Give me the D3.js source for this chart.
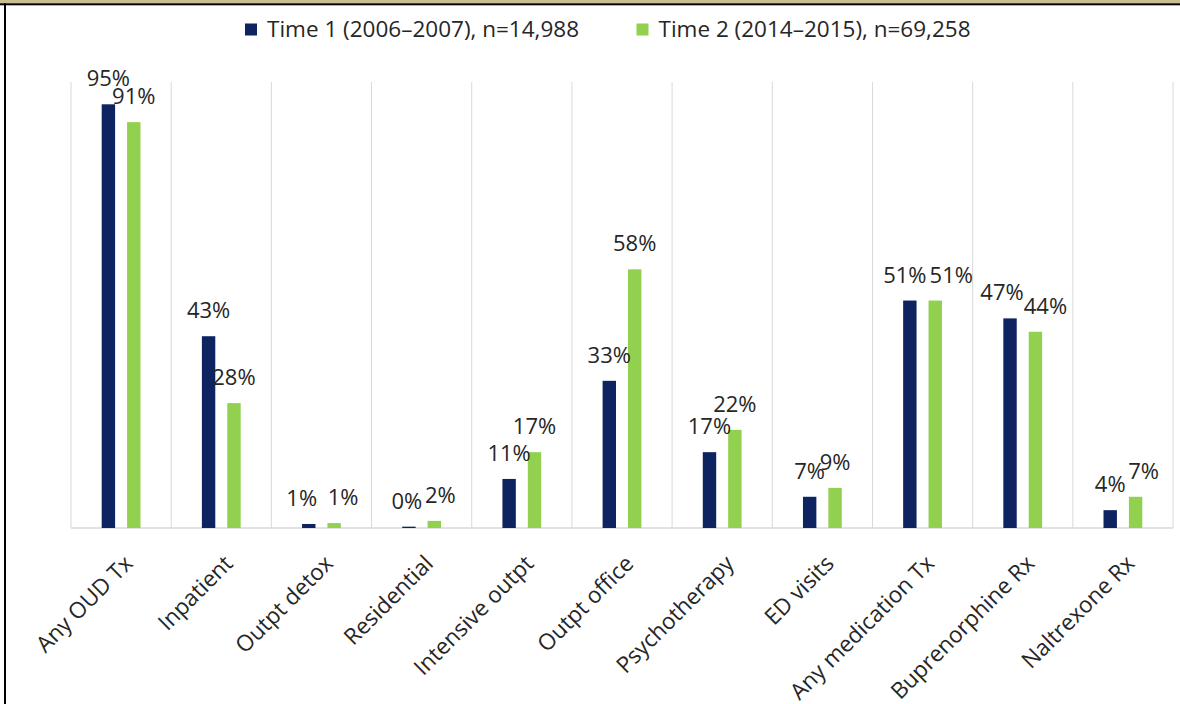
<!DOCTYPE html>
<html>
<head>
<meta charset="utf-8">
<script src="https://cdn.jsdelivr.net/npm/d3@7"></script>
<style>
  html, body { margin: 0; padding: 0; background: #fff; }
  svg { display: block; }
  text { font-family: "Open Sans", "Noto Sans", sans-serif; fill: #262626; }
</style>
</head>
<body>
<svg id="chart" width="1180" height="704"></svg>
<script>
const categories = ["Any OUD Tx", "Inpatient", "Outpt detox", "Residential", "Intensive outpt",
  "Outpt office", "Psychotherapy", "ED visits", "Any medication Tx", "Buprenorphine Rx", "Naltrexone Rx"];
const seriesNames = ["Time 1 (2006\u20132007), n=14,988", "Time 2 (2014\u20132015), n=69,258"];
const time1 = [95, 43, 0.9, 0.3, 11, 33, 17, 7, 51, 47, 4];
const time2 = [91, 28, 1.1, 1.6, 17, 58, 22, 9, 51, 44, 7];
const colors = ["#0e2461", "#92d050"];
// horizontal nudges of data labels (as placed in the reference to avoid overlaps)
const nudge1 = [0, 0, -7, -2, 0, 0, 0, 0, -5, -8, 0];
const nudge2 = [0, 0, 9, 6, 0, 0, 0, 0, 16, 10, 8];

(function () {
const svg = d3.select("#chart");
const W = 1180, H = 704;

// frame
svg.append("rect").attr("x", 0).attr("y", 0).attr("width", W).attr("height", 3.5).attr("fill", "#c9bd92");
svg.append("rect").attr("x", 0).attr("y", 3.3).attr("width", W).attr("height", 2).attr("fill", "#000");
svg.append("rect").attr("x", 4).attr("y", 3.3).attr("width", 2).attr("height", H).attr("fill", "#000");

const left = 71, right = 1173, plotTop = 82, base = 528;
const x0 = d3.scaleBand().domain(categories).range([left, right]).paddingInner(0).paddingOuter(0);
const bw = x0.bandwidth();
const x1 = d3.scaleBand().domain([0, 1]).range([bw / 2 - 19.4, bw / 2 + 19.4]).paddingInner(0.472).paddingOuter(0);
const y = d3.scaleLinear().domain([0, 100]).range([base, plotTop]);

// vertical gridlines
const bounds = categories.map(c => x0(c)).concat([right]);
svg.append("g").selectAll("line").data(bounds).join("line")
  .attr("x1", d => d).attr("x2", d => d)
  .attr("y1", plotTop).attr("y2", base)
  .attr("stroke", "#d9d9d9").attr("stroke-width", 1);

// baseline
svg.append("line").attr("x1", left).attr("x2", right).attr("y1", base).attr("y2", base)
  .attr("stroke", "#d9d9d9").attr("stroke-width", 1.3);

const data = categories.map((c, i) => ({ c, vals: [time1[i], time2[i]], nud: [nudge1[i], nudge2[i]] }));

const groups = svg.append("g").selectAll("g").data(data).join("g")
  .attr("transform", d => `translate(${x0(d.c)},0)`);

groups.selectAll("rect").data(d => d.vals.map((v, k) => ({ v, k }))).join("rect")
  .attr("x", d => x1(d.k))
  .attr("width", x1.bandwidth())
  .attr("y", d => y(d.v))
  .attr("height", d => base - y(d.v))
  .attr("fill", d => colors[d.k]);

groups.selectAll("text.lbl").data(d => d.vals.map((v, k) => ({ v, k, n: d.nud[k] }))).join("text")
  .attr("class", "lbl")
  .attr("x", d => x1(d.k) + x1.bandwidth() / 2 + d.n)
  .attr("y", d => y(d.v) - 18)
  .attr("text-anchor", "middle")
  .style("font-size", "22px")
  .text(d => Math.round(d.v) + "%");

// category labels
svg.append("g").selectAll("text").data(categories).join("text")
  .attr("transform", d => `translate(${x0(d) + bw / 2 + 13},${base + 37}) rotate(-45)`)
  .attr("text-anchor", "end")
  .style("font-size", "22.5px")
  .text(d => d);

// legend
const legendItems = [{ x: 245, name: seriesNames[0], color: colors[0] }, { x: 636.5, name: seriesNames[1], color: colors[1] }];
const lg = svg.append("g").selectAll("g").data(legendItems).join("g")
  .attr("transform", d => `translate(${d.x},0)`);
lg.append("rect").attr("x", 0).attr("y", 23.5).attr("width", 12).attr("height", 12).attr("fill", d => d.color);
lg.append("text").attr("x", 22).attr("y", 37).style("font-size", "22.5px").text(d => d.name);
})();
</script>
</body>
</html>
